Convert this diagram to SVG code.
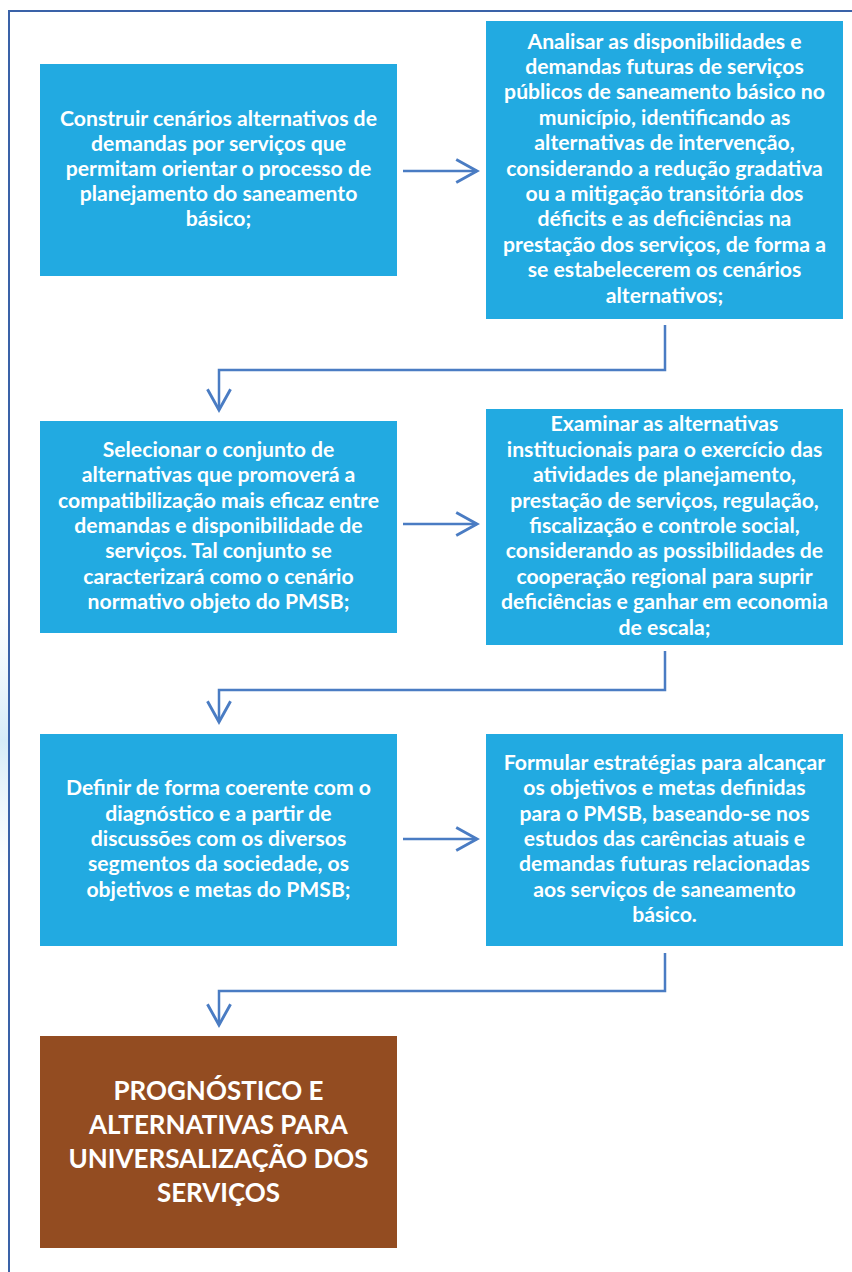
<svg xmlns="http://www.w3.org/2000/svg" width="852" height="1272" viewBox="0 0 852 1272">
<style>
.box{fill:#22AAE1;}
.brown{fill:#934C21;}
.t{font-family:Lato,"Liberation Sans",sans-serif;font-weight:bold;font-size:21.2px;fill:#FFFFFF;text-anchor:middle;}
.tb{font-family:Lato,"Liberation Sans",sans-serif;font-weight:bold;font-size:26px;fill:#FFFFFF;text-anchor:middle;}
.c{fill:none;stroke:#4A7CC3;stroke-width:2.5;}
.frame{fill:none;stroke:#3A62A8;stroke-width:2;}
</style>
<defs>
<marker id="arr" markerUnits="userSpaceOnUse" markerWidth="30" markerHeight="30" viewBox="-22 -13 26 26" refX="0" refY="0" orient="auto" overflow="visible">
<path d="M-18,-10 L0,0 L-18,10" fill="none" stroke="#4A7CC3" stroke-width="2.5"/>
</marker>
<linearGradient id="wash" x1="0" y1="0" x2="0" y2="1">
<stop offset="0" stop-color="#E6F3FB" stop-opacity="0"/>
<stop offset="0.5" stop-color="#D6ECF8"/>
<stop offset="1" stop-color="#E6F3FB" stop-opacity="0"/>
</linearGradient>
</defs>
<rect width="852" height="1272" fill="#FFFFFF"/>
<rect x="0" y="600" width="9" height="280" fill="url(#wash)"/>
<path class="frame" d="M9,1272 L9,11 L852,11"/>

<g id="connectors">
<line class="c" x1="403" y1="171" x2="477" y2="171" marker-end="url(#arr)"/>
<line class="c" x1="403" y1="524" x2="477" y2="524" marker-end="url(#arr)"/>
<line class="c" x1="403" y1="839" x2="477" y2="839" marker-end="url(#arr)"/>
<polyline class="c" points="665,325 665,370 219,370 219,410" marker-end="url(#arr)"/>
<polyline class="c" points="665,651 665,690 219,690 219,722" marker-end="url(#arr)"/>
<polyline class="c" points="665,953 665,991 219,991 219,1025" marker-end="url(#arr)"/>
</g>

<g id="n1">
<rect class="box" x="40" y="64" width="357" height="212"/>
<text class="t" x="218.5" y="126">Construir cenários alternativos de</text>
<text class="t" x="218.5" y="151">demandas por serviços que</text>
<text class="t" x="218.5" y="176">permitam orientar o processo de</text>
<text class="t" x="218.5" y="201">planejamento do saneamento</text>
<text class="t" x="218.5" y="226">básico;</text>
</g>

<g id="n2">
<rect class="box" x="486" y="21" width="357" height="298"/>
<text class="t" x="664.5" y="48.6">Analisar as disponibilidades e</text>
<text class="t" x="664.5" y="74">demandas futuras de serviços</text>
<text class="t" x="664.5" y="99.4">públicos de saneamento básico no</text>
<text class="t" x="664.5" y="124.8">município, identificando as</text>
<text class="t" x="664.5" y="150.2">alternativas de intervenção,</text>
<text class="t" x="664.5" y="175.6">considerando a redução gradativa</text>
<text class="t" x="664.5" y="201">ou a mitigação transitória dos</text>
<text class="t" x="664.5" y="226.4">déficits e as deficiências na</text>
<text class="t" x="664.5" y="251.8">prestação dos serviços, de forma a</text>
<text class="t" x="664.5" y="277.2">se estabelecerem os cenários</text>
<text class="t" x="664.5" y="302.6">alternativos;</text>
</g>

<g id="n3">
<rect class="box" x="40" y="421" width="357" height="212"/>
<text class="t" x="218.5" y="456.8">Selecionar o conjunto de</text>
<text class="t" x="218.5" y="482.2">alternativas que promoverá a</text>
<text class="t" x="218.5" y="507.6">compatibilização mais eficaz entre</text>
<text class="t" x="218.5" y="533">demandas e disponibilidade de</text>
<text class="t" x="218.5" y="558.4">serviços. Tal conjunto se</text>
<text class="t" x="218.5" y="583.8">caracterizará como o cenário</text>
<text class="t" x="218.5" y="609.2">normativo objeto do PMSB;</text>
</g>

<g id="n4">
<rect class="box" x="486" y="409" width="357" height="236"/>
<text class="t" x="664.5" y="431.4">Examinar as alternativas</text>
<text class="t" x="664.5" y="456.8">institucionais para o exercício das</text>
<text class="t" x="664.5" y="482.2">atividades de planejamento,</text>
<text class="t" x="664.5" y="507.6">prestação de serviços, regulação,</text>
<text class="t" x="664.5" y="533">fiscalização e controle social,</text>
<text class="t" x="664.5" y="558.4">considerando as possibilidades de</text>
<text class="t" x="664.5" y="583.8">cooperação regional para suprir</text>
<text class="t" x="664.5" y="609.2">deficiências e ganhar em economia</text>
<text class="t" x="664.5" y="634.6">de escala;</text>
</g>

<g id="n5">
<rect class="box" x="40" y="734" width="357" height="212"/>
<text class="t" x="218.5" y="795.2">Definir de forma coerente com o</text>
<text class="t" x="218.5" y="820.6">diagnóstico e a partir de</text>
<text class="t" x="218.5" y="846">discussões com os diversos</text>
<text class="t" x="218.5" y="871.4">segmentos da sociedade, os</text>
<text class="t" x="218.5" y="896.8">objetivos e metas do PMSB;</text>
</g>

<g id="n6">
<rect class="box" x="486" y="734" width="357" height="212"/>
<text class="t" x="664.5" y="769.8">Formular estratégias para alcançar</text>
<text class="t" x="664.5" y="795.2">os objetivos e metas definidas</text>
<text class="t" x="664.5" y="820.6">para o PMSB, baseando-se nos</text>
<text class="t" x="664.5" y="846">estudos das carências atuais e</text>
<text class="t" x="664.5" y="871.4">demandas futuras relacionadas</text>
<text class="t" x="664.5" y="896.8">aos serviços de saneamento</text>
<text class="t" x="664.5" y="922.2">básico.</text>
</g>

<g id="n7">
<rect class="brown" x="40" y="1036" width="357" height="212"/>
<text class="tb" x="218.5" y="1100">PROGNÓSTICO E</text>
<text class="tb" x="218.5" y="1134">ALTERNATIVAS PARA</text>
<text class="tb" x="218.5" y="1168">UNIVERSALIZAÇÃO DOS</text>
<text class="tb" x="218.5" y="1202">SERVIÇOS</text>
</g>
</svg>
